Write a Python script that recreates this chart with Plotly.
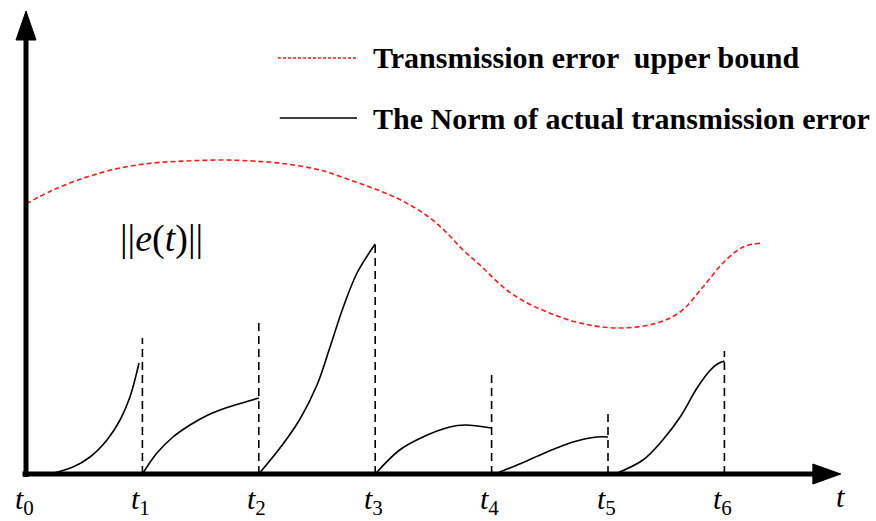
import plotly.graph_objects as go

# ---- data -------------------------------------------------------------
# upper bound of the transmission error (time in units of t_k, value in norm units)
bound_t = [0.0, 0.232, 0.524, 0.808, 1.091, 1.383, 1.667, 1.950, 2.242, 2.526,
           2.612, 2.784, 2.955, 3.127, 3.299, 3.471, 3.617, 3.754, 3.900, 4.098,
           4.260, 4.476, 4.759, 5.103, 5.421, 5.619, 5.816, 5.988, 6.160, 6.323]
bound_y = [2.70, 2.84, 2.97, 3.06, 3.11, 3.13, 3.14, 3.13, 3.10, 3.04,
           3.01, 2.94, 2.87, 2.79, 2.69, 2.56, 2.41, 2.24, 2.09, 1.87,
           1.74, 1.62, 1.51, 1.46, 1.51, 1.62, 1.87, 2.11, 2.27, 2.31]

# norm of the actual transmission error, one segment per triggering interval
seg1_t = [0.206, 0.404, 0.550, 0.696, 0.808, 0.893, 0.971]
seg1_y = [0.00, 0.07, 0.17, 0.34, 0.54, 0.77, 1.11]
seg2_t = [1.0, 1.125, 1.263, 1.409, 1.555, 1.727, 1.899, 2.0]
seg2_y = [0.00, 0.21, 0.37, 0.49, 0.585, 0.665, 0.725, 0.76]
seg3_t = [2.0, 2.208, 2.354, 2.500, 2.612, 2.723, 2.844, 3.0]
seg3_y = [0.00, 0.30, 0.55, 0.89, 1.27, 1.66, 2.01, 2.30]
seg4_t = [3.0, 3.21, 3.41, 3.64, 3.77, 4.0]
seg4_y = [0.00, 0.24, 0.37, 0.47, 0.49, 0.46]
seg5_t = [4.03, 4.22, 4.476, 4.70, 4.905, 5.0]
seg5_y = [0.00, 0.09, 0.22, 0.32, 0.37, 0.37]
seg6_t = [5.06, 5.30, 5.47, 5.62, 5.765, 5.88, 5.94, 6.0]
seg6_y = [0.00, 0.14, 0.34, 0.57, 0.86, 1.04, 1.10, 1.13]

# triggering instants and heights of their dashed markers
trigger_t = [1, 2, 3, 4, 5, 6]
trigger_top = [1.36, 1.54, 2.32, 1.02, 0.65, 1.23]

tick_labels = ["<i>t</i><sub>%d</sub>" % k for k in range(7)]
legend_labels = ["Transmission error \u00a0upper bound",
                 "The Norm of actual transmission error"]

# ---- figure -----------------------------------------------------------
SERIF = "Liberation Serif, Times New Roman, serif"
RED = "#ff1a1a"
T_END, Y_END = 7.0, 4.63          # arrow tips of the two axes

fig = go.Figure()

fig.add_trace(go.Scatter(x=bound_t, y=bound_y, mode="lines",
                         line=dict(color=RED, width=1.6, dash="5px,3px",
                                   shape="spline", smoothing=1.0)))

segments = [(seg1_t, seg1_y), (seg2_t, seg2_y), (seg3_t, seg3_y),
            (seg4_t, seg4_y), (seg5_t, seg5_y), (seg6_t, seg6_y)]
for st, sy in segments:
    fig.add_trace(go.Scatter(x=st, y=sy, mode="lines",
                             line=dict(color="black", width=1.6,
                                       shape="spline", smoothing=1.0)))

for tk, top in zip(trigger_t, trigger_top):
    fig.add_trace(go.Scatter(x=[tk, tk], y=[0, top], mode="lines",
                             line=dict(color="black", width=1.6, dash="8px,5px")))

# axes with arrowheads
ah_x, ah_w_x = 0.24, 0.10       # x-arrow length (t units), half-width (y units)
ah_y, ah_w_y = 0.29, 0.086      # y-arrow length (y units), half-width (t units)
shapes = [
    dict(type="line", x0=-0.03, y0=0, x1=T_END - ah_x, y1=0,
         line=dict(color="black", width=5)),
    dict(type="path",
         path=f"M {T_END - ah_x},{-ah_w_x} L {T_END},0 L {T_END - ah_x},{ah_w_x} Z",
         fillcolor="black", line=dict(color="black", width=1)),
    dict(type="line", x0=0, y0=-0.03, x1=0, y1=Y_END - ah_y,
         line=dict(color="black", width=5)),
    dict(type="path",
         path=f"M {-ah_w_y},{Y_END - ah_y} L 0,{Y_END} L {ah_w_y},{Y_END - ah_y} Z",
         fillcolor="black", line=dict(color="black", width=1)),
]

# legend swatches (paper coordinates)
leg_x0, leg_x1 = 278 / 876, 357 / 876
leg_rows = [1 - 58 / 521, 1 - 118 / 521]
shapes.append(dict(type="line", xref="paper", yref="paper", x0=leg_x0, x1=leg_x1,
                   y0=leg_rows[0], y1=leg_rows[0],
                   line=dict(color=RED, width=1.4, dash="3px,2px")))
shapes.append(dict(type="line", xref="paper", yref="paper", x0=leg_x0 + 0.002, x1=leg_x1,
                   y0=leg_rows[1], y1=leg_rows[1],
                   line=dict(color="black", width=1.6)))

annotations = []
for k, lab in enumerate(tick_labels):
    annotations.append(dict(x=k, y=-0.27, text=lab, showarrow=False,
                            xanchor="center", yanchor="middle", xshift=-2,
                            font=dict(family=SERIF, size=30, color="black")))
annotations.append(dict(x=T_END, y=-0.22, text="<i>t</i>", showarrow=False,
                        xanchor="center", yanchor="middle",
                        font=dict(family=SERIF, size=30, color="black")))
annotations.append(dict(x=1.16, y=2.36, text="||<i>e</i>(<i>t</i>)||", showarrow=False,
                        xanchor="center", yanchor="middle",
                        font=dict(family=SERIF, size=38, color="black")))
for row, lab in zip(leg_rows, legend_labels):
    annotations.append(dict(xref="paper", yref="paper", x=371 / 876, y=row,
                            text="<b>%s</b>" % lab, showarrow=False,
                            xanchor="left", yanchor="middle",
                            font=dict(family=SERIF, size=30, color="black")))

fig.update_layout(
    width=876, height=521,
    margin=dict(l=0, r=0, t=0, b=0),
    paper_bgcolor="white", plot_bgcolor="white",
    showlegend=False,
    xaxis=dict(range=[-26 / 116.4, 850 / 116.4], visible=False, fixedrange=True),
    yaxis=dict(range=[-0.47, 4.74], visible=False, fixedrange=True),
    shapes=shapes,
    annotations=annotations,
)

fig.write_html("out.html")
